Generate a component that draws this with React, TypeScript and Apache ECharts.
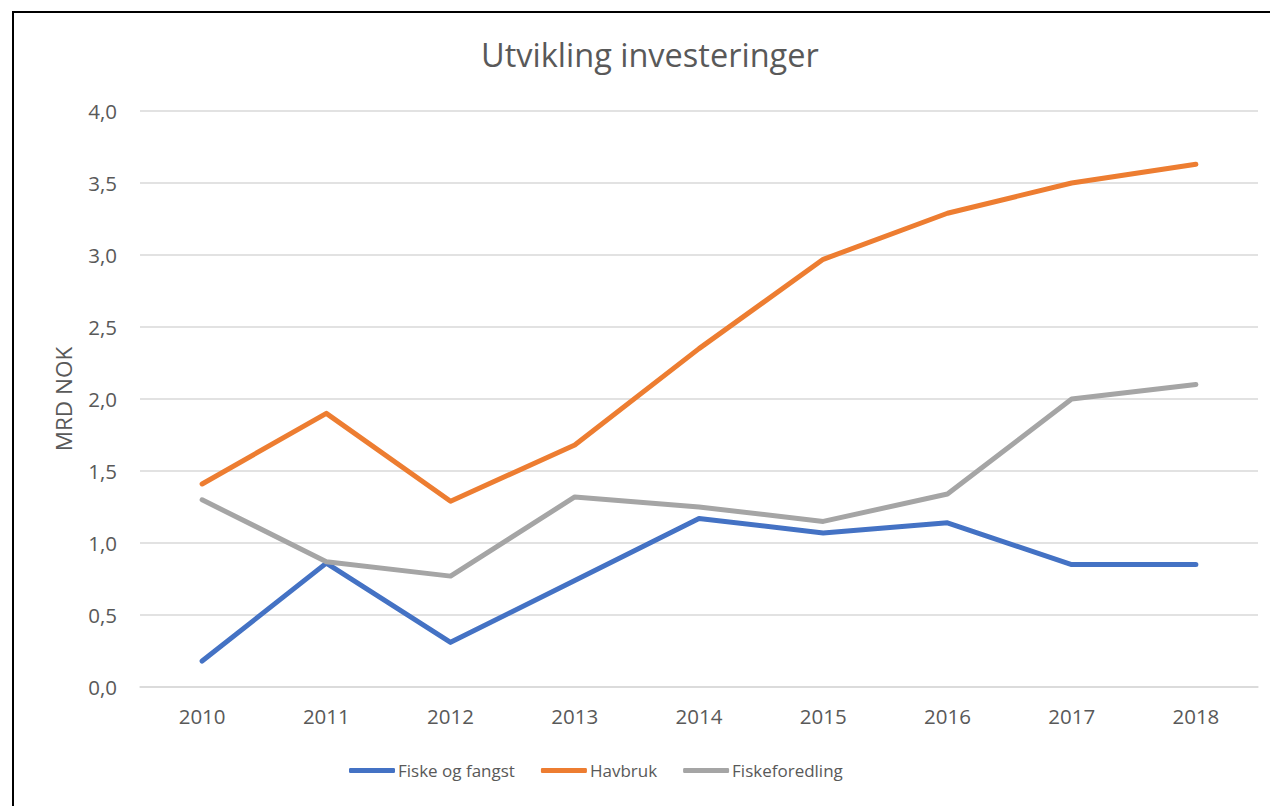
import React, { useEffect, useRef } from "react";
import * as echarts from "echarts";

const years = ["2010", "2011", "2012", "2013", "2014", "2015", "2016", "2017", "2018"];
const fiskeOgFangst = [0.18, 0.86, 0.31, 0.74, 1.17, 1.07, 1.14, 0.85, 0.85];
const havbruk = [1.41, 1.9, 1.29, 1.68, 2.35, 2.97, 3.29, 3.5, 3.63];
const fiskeforedling = [1.3, 0.87, 0.77, 1.32, 1.25, 1.15, 1.34, 2.0, 2.1];
const seriesNames = ["Fiske og fangst", "Havbruk", "Fiskeforedling"];
const colors = ["#4472C4", "#ED7D31", "#A5A5A5"];

const FONT = "Open Sans";
const TEXT = "#595959";

export default function App() {
  const ref = useRef<HTMLDivElement>(null);
  useEffect(() => {
    if (!ref.current) return;
    const chart = echarts.init(ref.current, undefined, { renderer: "svg" });
    const data = [fiskeOgFangst, havbruk, fiskeforedling];
    chart.setOption({
      animation: false,
      backgroundColor: "#ffffff",
      title: {
        text: "Utvikling investeringer",
        left: 476,
        top: 33,
        textStyle: { fontFamily: FONT, fontSize: 32.5, fontWeight: "normal", color: TEXT },
      },
      graphic: [
        {
          type: "rect",
          shape: { x: 13, y: 12, width: 1400, height: 1000 },
          style: { fill: "none", stroke: "#000000", lineWidth: 2 },
          silent: true,
        },
      ],
      grid: { left: 140, right: 12, top: 111, bottom: 119, containLabel: false },
      legend: {
        bottom: 22,
        left: 344,
        icon: "roundRect",
        itemWidth: 46,
        itemHeight: 5,
        itemGap: 26,
        textStyle: { fontFamily: FONT, fontSize: 17, color: TEXT, padding: [0, 0, 0, -2] },
        data: seriesNames,
      },
      xAxis: {
        type: "category",
        data: years,
        boundaryGap: true,
        axisTick: { show: false },
        axisLine: { show: true, lineStyle: { color: "#D9D9D9", width: 1.5 } },
        axisLabel: { fontFamily: FONT, fontSize: 20.5, color: TEXT, margin: 18 },
      },
      yAxis: {
        type: "value",
        min: 0,
        max: 4,
        interval: 0.5,
        name: "MRD NOK",
        nameLocation: "middle",
        nameGap: 65,
        nameRotate: 90,
        nameTextStyle: { fontFamily: FONT, fontSize: 22.5, color: TEXT },
        axisLine: { show: false },
        axisTick: { show: false },
        splitLine: { lineStyle: { color: "#D9D9D9", width: 1.5 } },
        axisLabel: {
          fontFamily: FONT,
          fontSize: 20.5,
          color: TEXT,
          margin: 23,
          formatter: (v: number) => v.toFixed(1).replace(".", ","),
        },
      },
      series: seriesNames.map((name, i) => ({
        name,
        type: "line",
        data: data[i],
        symbol: "none",
        color: colors[i],
        lineStyle: { color: colors[i], width: 5, cap: "round", join: "round" },
      })),
    });
    return () => chart.dispose();
  }, []);
  return (
    <div
      ref={ref}
      style={{ position: "fixed", left: 0, top: 0, width: 1270, height: 806 }}
    />
  );
}
